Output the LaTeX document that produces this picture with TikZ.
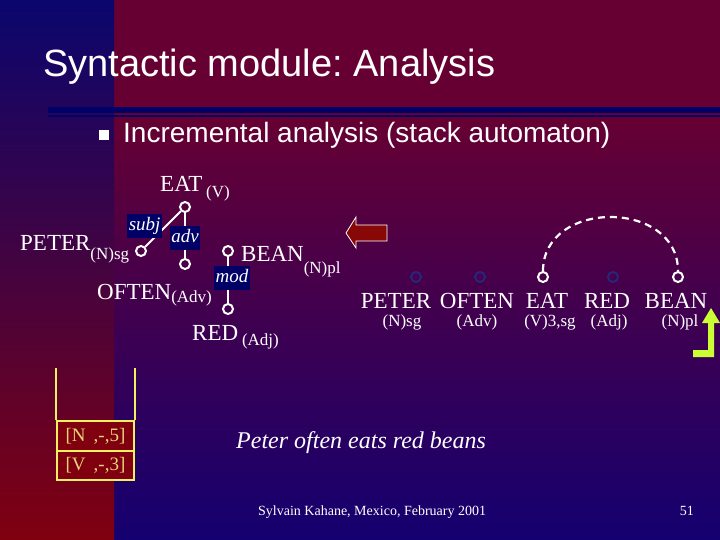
\documentclass[tikz,border=0pt]{standalone}
\usepackage{fontspec}
\setmainfont{Liberation Serif}
\newfontfamily\arialfont{Liberation Sans}
\usetikzlibrary{arrows.meta}
\frenchspacing
\definecolor{navy}{RGB}{0,0,102}
\definecolor{wine}{RGB}{102,0,51}
\definecolor{deepblue}{RGB}{20,0,112}
\definecolor{stripblue}{RGB}{10,6,110}
\definecolor{stackred}{RGB}{128,0,16}
\definecolor{stackline}{RGB}{240,240,96}
\definecolor{stacktext}{RGB}{230,214,120}
\definecolor{arrowred}{RGB}{136,8,8}
\definecolor{lime}{RGB}{204,255,51}
\newcommand{\fsz}[1]{\fontsize{#1}{#1}\selectfont}
\newcommand{\lowtag}[2]{\raisebox{-#1}{\fsz{17}#2}}

\begin{document}
\begin{tikzpicture}[x=1pt, y=-1pt, word/.style={text=white, font=\fsz{23}, inner sep=0pt}, tag/.style={text=white, font=\fsz{17}, inner sep=0pt}, vert/.style={circle, draw=white, line width=2pt, minimum size=10pt, inner sep=0pt}, dimvert/.style={vert, draw=navy!85!white}, dep/.style={draw=white, line width=2pt}, rel/.style={fill=navy, text=white, font=\fsz{19}\itshape, inner xsep=1.5pt, inner ysep=3.5pt, text height=13pt, text depth=4pt}, cell/.style={draw=stackline, line width=1.8pt, fill=stackred, minimum width=77pt, minimum height=29.5pt, inner sep=0pt, text=stacktext, font=\fsz{19}}, wall/.style={draw=stackline, line width=1.8pt}]

\useasboundingbox (0,0) rectangle (720,540);
\fill[wine] (114,0) rectangle (720,120); \shade[top color=wine, bottom color=deepblue] (114,120) rectangle (720,540);
\shade[top color=stripblue, bottom color=stackred] (0,0) rectangle (114,540);

\node[font=\arialfont\fsz{38}, text=white, anchor=base west, inner sep=0pt] (title) at (43,77) {Syntactic module: Analysis};
\fill[navy] (48,107) rectangle (720,113); \fill[navy] (48,115) rectangle (720,117);
\node[fill=white, minimum size=10pt, inner sep=0pt] (bullet) at (104,135) {};
\node[font=\arialfont\fsz{28}, text=white, anchor=base west, inner sep=0pt] (point) at (123,143) {Incremental analysis (stack automaton)};

\node[vert] (eat) at (185,207) {}; \node[vert] (peter) at (141,251) {}; \node[vert] (often) at (185,264) {};
\node[vert] (bean) at (228,251) {}; \node[vert] (red) at (228,309) {};
\draw[dep] (peter) -- (eat) node[rel, midway, anchor=east, yshift=3pt] {subj};
\draw[dep] (eat) -- (often) node[rel, pos=0.55] {adv};
\draw[dep] (bean) -- (red) node[rel, midway, xshift=4pt, yshift=2pt] {mod};
\node[word, anchor=base west] (eatw) at (160,192) {EAT\,\lowtag{6pt}{(V)}};
\node[word, anchor=base west] (peterw) at (20,251) {PETER\lowtag{9pt}{(N)sg}};
\node[word, anchor=base west] (oftenw) at (97,299) {OFTEN\lowtag{3pt}{(Adv)}};
\node[word, anchor=base west] (beanw) at (241,261) {BEAN\lowtag{13pt}{(N)pl}};
\node[word, anchor=base west] (redw) at (192,340) {RED\,\lowtag{5pt}{(Adj)}};

\draw[white, fill=arrowred, line width=0.8pt] (387,225) -- (356,225) -- (356,217) -- (346,233) -- (356,248) -- (356,241) -- (387,241) -- cycle;

\node[dimvert] (p1) at (416,277) {}; \node[dimvert] (o2) at (480,277) {}; \node[vert] (e3) at (543,277) {};
\node[dimvert] (r4) at (613,277) {}; \node[vert] (b5) at (678,277) {};
\draw[white, line width=2.2pt, dash pattern=on 7pt off 5pt] (e3.north) .. controls +(0,-72) and +(0,-72) .. (b5.north);
\node[word, anchor=base] (w1) at (396,308) {PETER}; \node[word, anchor=base] (w2) at (477,308) {OFTEN};
\node[word, anchor=base] (w3) at (547,308) {EAT}; \node[word, anchor=base] (w4) at (607,308) {RED};
\node[word, anchor=base] (w5) at (676,308) {BEAN};
\node[tag, anchor=base] (t1) at (402,326) {(N)sg}; \node[tag, anchor=base] (t2) at (477,326) {(Adv)};
\node[tag, anchor=base] (t3) at (550,326) {(V)3,sg}; \node[tag, anchor=base] (t4) at (609,326) {(Adj)};
\node[tag, anchor=base] (t5) at (680,326) {(N)pl};
\fill[lime] (693,350) -- (708,350) -- (708,323) -- (702,323) -- (711,308) -- (720,323) -- (714,323) -- (714,357) -- (693,357) -- cycle;

\node[cell] (top) at (95.5,436) {[N\hspace{8pt},-,5]};
\node[cell] (bottom) at (95.5,465.5) {[V\hspace{8pt},-,3]};
\draw[wall] (top.north west) -- ++(0,-52); \draw[wall] (top.north east) -- ++(0,-52);

\node[font=\fsz{24}\itshape, text=white, anchor=base west, inner sep=0pt] (sentence) at (236,448) {Peter often eats red beans};
\node[font=\fsz{14}, text=white, anchor=base west, inner sep=0pt] (footer) at (258,515) {Sylvain Kahane, Mexico, February 2001};
\node[font=\fsz{14}, text=white, anchor=base east, inner sep=0pt] (page) at (694,515) {51};
\end{tikzpicture}
\end{document}
